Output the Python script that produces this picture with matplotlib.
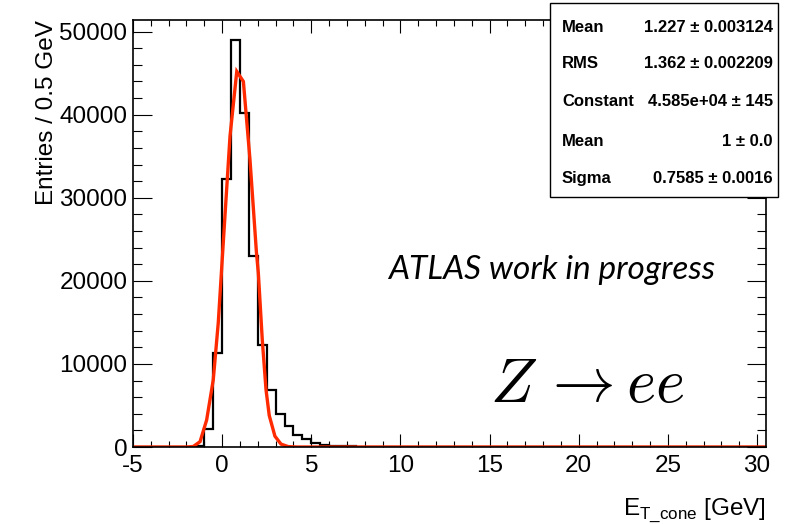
import numpy as np
import matplotlib
matplotlib.use("Agg")
from matplotlib import pyplot as plt
from matplotlib.patches import Rectangle
from matplotlib.ticker import MultipleLocator

# histogram: entries per 0.5 GeV bin, first bin starts at -5 GeV
bin_lo = -5.0
bin_width = 0.5
counts = [
    0, 0, 0, 0, 0, 0, 10, 120, 2130, 11290,
    32250, 48950, 40200, 23050, 12290, 6900, 3980, 2550, 1430, 930,
    540, 300, 170, 120, 80, 60, 45, 35, 25, 20,
    15, 12, 10, 8, 6, 5, 4, 3, 2, 2,
    1, 0, 0, 0, 0, 0, 0, 0, 0, 0,
    0, 0, 0, 0, 0, 0, 0, 0, 0, 0,
    0, 0, 0, 0, 0, 0, 0, 0, 0, 0,
    0,
]

# gaussian fit curve, as drawn (polyline points)
fit_x = [-5.0, -2.0, -1.62, -1.24, -0.87, -0.50, -0.22, 0.06, 0.44, 0.82,
         1.19, 1.56, 1.92, 2.03, 2.25, 2.46, 2.64, 2.96, 3.30, 3.70, 4.20, 30.5]
fit_y = [0, 0, 60, 640, 3250, 8070, 14900, 24500, 37400, 45200,
         44000, 34600, 23500, 20900, 12900, 6900, 3800, 1300, 350, 50, 0, 0]

stats_names = ["Mean", "RMS", "Constant", "Mean", "Sigma"]
stats_values = ["1.227 \u00b1 0.003124", "1.362 \u00b1 0.002209",
                "4.585e+04 \u00b1 145", "1 \u00b1 0.0", "0.7585 \u00b1 0.0016"]

W, H = 794, 524
plt.rcParams["font.family"] = ["Liberation Sans", "DejaVu Sans"]
plt.rcParams["axes.unicode_minus"] = False
fig = plt.figure(figsize=(W / 100, H / 100), dpi=100)

ax = fig.add_axes([133 / W, 1 - 447 / H, 633 / W, 427 / H])

edges = bin_lo + bin_width * np.arange(len(counts) + 1)
ax.stairs(counts, edges, color="black", lw=1.6, baseline=0)
ax.plot(fit_x, fit_y, color="#ff2a00", lw=2.4, solid_joinstyle="miter")

ax.set_xlim(-5, 30.5)
ax.set_ylim(0, 1.05 * max(counts))

ax.xaxis.set_major_locator(MultipleLocator(5))
ax.xaxis.set_minor_locator(MultipleLocator(1))
ax.yaxis.set_major_locator(MultipleLocator(10000))
ax.yaxis.set_minor_locator(MultipleLocator(2000))

ax.tick_params(axis="both", which="both", direction="in",
               top=True, right=True, width=0.8, labelsize=17.5)
ax.tick_params(axis="x", which="major", length=9.2, pad=6)
ax.tick_params(axis="x", which="minor", length=4.6)
ax.tick_params(axis="y", which="major", length=13.7, pad=4)
ax.tick_params(axis="y", which="minor", length=6.8)
for sp in ax.spines.values():
    sp.set_linewidth(1.2)

ax.set_ylabel("Entries / 0.5 GeV", fontsize=17.5, ha="right")
ax.yaxis.set_label_coords(-0.119, 1.0)
ax.set_xlabel(r"E$_{\mathregular{T\_cone}}$ [GeV]", fontsize=17.5, ha="right")
ax.xaxis.set_label_coords(1.0, -0.115)

ax.text(388 / W, 1 - 279 / H, "ATLAS work in progress", transform=fig.transFigure,
        fontsize=24, style="italic", family="Lato", ha="left", va="baseline")
ax.text(490 / W, 1 - 402 / H, r"$Z\,\rightarrow ee$", transform=fig.transFigure,
        fontsize=45, math_fontfamily="cm", ha="left", va="baseline")

# stats box
fig.add_artist(Rectangle((550 / W, 1 - 197 / H), 228 / W, 194 / H,
                         transform=fig.transFigure, facecolor="white",
                         edgecolor="black", lw=1.0, zorder=5))
row_y = [27, 64, 102, 141, 179]
for name, val, yy in zip(stats_names, stats_values, row_y):
    fig.text(562 / W, 1 - yy / H, name, fontsize=12, weight="bold",
             ha="left", va="center", zorder=6)
    fig.text(773 / W, 1 - yy / H, val, fontsize=12, weight="bold",
             ha="right", va="center", zorder=6)

fig.savefig("out.png", dpi=100)
